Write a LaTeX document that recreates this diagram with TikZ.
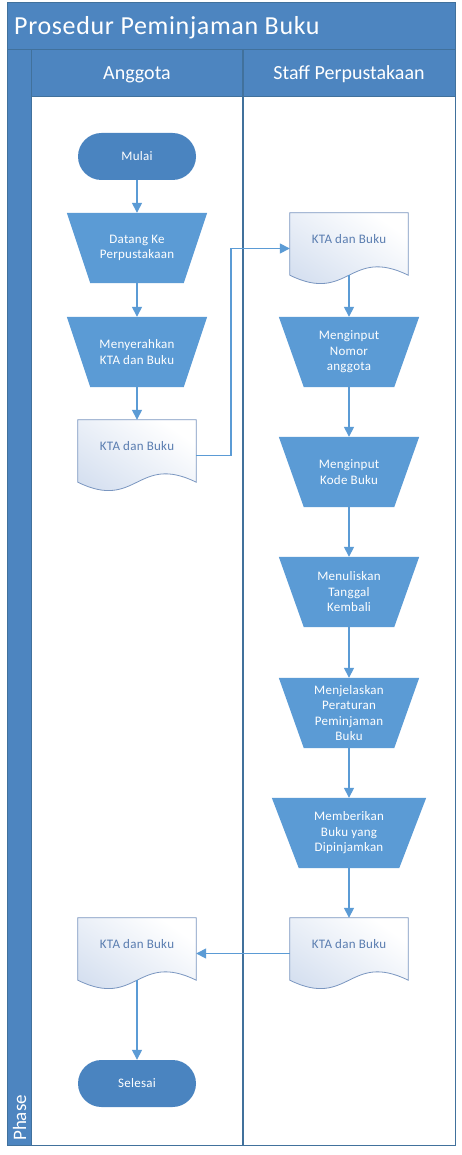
\documentclass[tikz,border=0pt]{standalone}
\usepackage{fontspec}
\setmainfont{Carlito}
\usetikzlibrary{arrows.meta}
\definecolor{band}{HTML}{4D85C0}
\definecolor{frameline}{HTML}{41719C}
\definecolor{trapfill}{HTML}{5B9BD5}
\definecolor{termfill}{HTML}{4A84C0}
\definecolor{lineblue}{HTML}{5B9BD5}
\definecolor{docline}{HTML}{7A96C0}
\definecolor{docgrad}{HTML}{D3DEEF}
\definecolor{doctext}{HTML}{5A7DB0}
\pgfdeclarelayer{back}
\pgfdeclarelayer{bg}
\pgfsetlayers{back,bg,main}
\tikzset{
  nodefont/.style={font=\fontsize{13}{15.5}\selectfont\addfontfeatures{LetterSpace=2}},
  term/.style={nodefont, rectangle, rounded corners=23.5pt, fill=termfill, text=white,
    minimum width=118pt, minimum height=47pt, inner sep=0pt},
  trapbox/.style={nodefont, rectangle, text=white, align=center,
    minimum width=140pt, minimum height=70pt, inner sep=0pt},
  docbox/.style={nodefont, rectangle, text=doctext, align=center,
    minimum width=118pt, minimum height=71pt, inner sep=0pt},
  docstyle/.style={draw=docline, line width=0.8pt, top color=white, bottom color=docgrad, shading angle=-35},
  flow/.style={draw=lineblue, line width=1.5pt, -{Triangle[length=10pt,width=10pt]}},
}
\newcommand\trapsh[2]{\fill[trapfill] (#1.north west) -- (#1.north east) -- ([xshift=-#2pt]#1.south east) -- ([xshift=#2pt]#1.south west) -- cycle;}
\newcommand\docsh[1]{\path[docstyle] (#1.north west) -- (#1.north east) -- ([yshift=9pt]#1.south east) .. controls +(-59pt,29pt) and +(59pt,-29pt) .. ([yshift=9pt]#1.south west) -- cycle;}
\newcommand\doctxt[1]{\raisebox{5pt}[0pt][0pt]{#1}}
\begin{document}
\begin{tikzpicture}[x=1pt,y=-1pt]
\useasboundingbox (0,0) rectangle (462,1155);
% frame
\begin{pgfonlayer}{back}
  \fill[white] (0,0) rectangle (462,1155);
  \fill[band] (7,3) rectangle (455,97);
  \fill[band] (7,97) rectangle (31,1145);
  \fill[white] (31,97) rectangle (455,1145);
  \draw[frameline, line width=1pt] (7,3) rectangle (455,1145);
  \draw[frameline, line width=1pt] (7,50) -- (455,50);
  \draw[frameline, line width=1pt] (31,50) -- (31,1145);
  \draw[frameline, line width=1pt] (31,97) -- (455,97);
  \draw[frameline, line width=1.2pt] (243,50) -- (243,1145);
\end{pgfonlayer}
\node[anchor=base west, inner sep=0pt, text=white, font=\fontsize{26}{30}\selectfont\addfontfeatures{LetterSpace=2.5}] (title) at (14,35) {Prosedur Peminjaman Buku};
\node[anchor=base, inner sep=0pt, text=white, font=\fontsize{20}{24}\selectfont] (laneA) at (137,80) {Anggota};
\node[anchor=base, inner sep=0pt, text=white, font=\fontsize{20}{24}\selectfont] (laneB) at (349,80) {Staff Perpustakaan};
\node[anchor=base west, rotate=90, inner sep=0pt, text=white, font=\fontsize{19}{23}\selectfont] (phase) at (26,1141) {Phase};
% nodes
\node[term] (mulai) at (137,156.5) {Mulai};
\node[trapbox] (datang) at (137,248) {Datang Ke\\Perpustakaan};
\node[trapbox] (serah) at (137,352) {Menyerahkan\\KTA dan Buku};
\node[docbox] (docA) at (137,455.5) {\doctxt{KTA dan Buku}};
\node[docbox] (docB) at (349,248.5) {\doctxt{KTA dan Buku}};
\node[trapbox] (nomor) at (349,352) {Menginput\\Nomor\\anggota};
\node[trapbox] (kode) at (349,472) {Menginput\\Kode Buku};
\node[trapbox] (tulis) at (349,592) {Menuliskan\\Tanggal\\Kembali};
\node[trapbox] (jelas) at (349,713) {Menjelaskan\\Peraturan\\Peminjaman\\Buku};
\node[trapbox, minimum width=154pt] (beri) at (349,833) {Memberikan\\Buku yang\\Dipinjamkan};
\node[docbox] (docC) at (349,953.5) {\doctxt{KTA dan Buku}};
\node[docbox] (docD) at (137,953.5) {\doctxt{KTA dan Buku}};
\node[term] (selesai) at (137,1083.5) {Selesai};
% shapes
\begin{pgfonlayer}{bg}
  \trapsh{datang}{23.5}
  \trapsh{serah}{23.5}
  \trapsh{nomor}{25}
  \trapsh{kode}{25}
  \trapsh{tulis}{25}
  \trapsh{jelas}{25}
  \trapsh{beri}{27}
  \docsh{docA}
  \docsh{docB}
  \docsh{docC}
  \docsh{docD}
\end{pgfonlayer}
% connectors
\draw[flow] (mulai) -- (datang);
\draw[flow] (datang) -- (serah);
\draw[flow] (serah) -- (docA);
\draw[flow] (docA.east) -- ++(35,0) |- (docB.west);
\draw[flow] ([yshift=9pt]docB.south) -- (nomor);
\draw[flow] (nomor) -- (kode);
\draw[flow] (kode) -- (tulis);
\draw[flow] (tulis) -- (jelas);
\draw[flow] (jelas) -- (beri);
\draw[flow] (beri) -- (docC);
\draw[flow] (docC.west) -- (docD.east);
\draw[flow] ([yshift=9pt]docD.south) -- (selesai);
\end{tikzpicture}
\end{document}
